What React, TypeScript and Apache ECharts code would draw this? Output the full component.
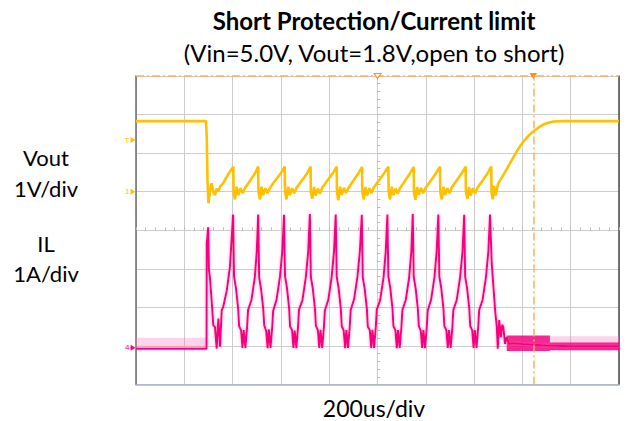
import React, { useEffect, useRef } from "react";
import * as echarts from "echarts";

// Time axis: 200 us/div, 10 divisions
const timeRange = [0, 2000];
const timeInterval = 200;
// Vout channel: 1 V/div, ground at 5th division from bottom
const voutRange = [-5, 3];
// IL channel: 1 A/div, ground at ~0.95 div from bottom
const ilRange = [-0.95, 7.05];

// Vout trace [time us, volts]
const voutPoints: [number, number][] = [
  [0, 1.83], [290, 1.83], [293, 1.4], [296, 0.3], [300, -0.3], [306, 0.0], [313, 0.22], [320, 0.0], [327, -0.09], [334, 0.08], [341, 0.0], [348, 0.13], [361, 0.22], [376, 0.39], [389, 0.52], [403, 0.65],
  [404, 0.0], [410, -0.2], [417, 0.13], [424, -0.09], [433, 0.09], [442, -0.04], [451, 0.09], [465, 0.22], [479, 0.35], [493, 0.48], [506, 0.65],
  [507, 0.0], [513, -0.2], [520, 0.13], [527, -0.09], [536, 0.09], [545, -0.04], [554, 0.09], [568, 0.22], [584, 0.35], [600, 0.48], [616, 0.65],
  [617, 0.0], [623, -0.2], [630, 0.13], [637, -0.09], [646, 0.09], [655, -0.04], [664, 0.09], [678, 0.22], [694, 0.35], [709, 0.48], [723, 0.65],
  [724, -0.02], [730, -0.18], [737, 0.12], [744, -0.1], [753, 0.08], [762, -0.05], [771, 0.1], [786, 0.23], [801, 0.36], [816, 0.49], [831, 0.65],
  [832, 0.0], [838, -0.22], [845, 0.13], [852, -0.08], [861, 0.1], [870, -0.03], [879, 0.09], [893, 0.22], [907, 0.35], [921, 0.48], [936, 0.64],
  [937, 0.0], [943, -0.2], [950, 0.12], [957, -0.1], [966, 0.09], [975, -0.04], [984, 0.1], [999, 0.23], [1014, 0.36], [1029, 0.49], [1045, 0.65],
  [1046, 0.0], [1052, -0.2], [1059, 0.13], [1066, -0.09], [1075, 0.08], [1084, -0.05], [1093, 0.09], [1107, 0.22], [1121, 0.35], [1135, 0.48], [1150, 0.64],
  [1151, -0.02], [1157, -0.21], [1164, 0.12], [1171, -0.08], [1180, 0.1], [1189, -0.04], [1198, 0.09], [1213, 0.22], [1228, 0.35], [1243, 0.49], [1259, 0.65],
  [1260, 0.0], [1266, -0.2], [1273, 0.13], [1280, -0.09], [1289, 0.09], [1298, -0.04], [1307, 0.1], [1321, 0.23], [1336, 0.36], [1350, 0.49], [1365, 0.65],
  [1366, 0.0], [1372, -0.19], [1379, 0.12], [1386, -0.1], [1395, 0.09], [1404, -0.05], [1413, 0.09], [1427, 0.22], [1442, 0.35], [1456, 0.48], [1471, 0.65],
  [1472, 0.0], [1477, -0.2], [1483, 0.15], [1489, -0.1], [1494, 0.04], [1499, 0.2], [1508, 0.3], [1521, 0.43], [1549, 0.74], [1576, 1.04], [1604, 1.3],
  [1625, 1.45], [1645, 1.56], [1666, 1.66], [1686, 1.74], [1707, 1.79], [1728, 1.82], [1769, 1.83], [2000, 1.83],
];

// Inductor current trace [time us, amps]
const ilPoints: [number, number][] = [
  [0, -0.02], [292, -0.02], [293, 2.7], [299, 3.13], [302, 2.01], [306, 1.84], [313, 1.24], [320, 0.59], [327, 0.54], [334, -0.02], [341, 0.76], [348, 0.03], [355, 0.98], [361, 1.06], [376, 1.49], [389, 2.1], [402, 3.46],
  [406, 1.85], [414, 1.55], [423, 1.02], [427, 0.56], [435, 0.46], [441, 0.0], [446, 0.46], [453, 0.0], [460, 0.54], [464, 0.98], [478, 1.24], [492, 1.83], [500, 2.5], [506, 3.46],
  [510, 1.82], [518, 1.52], [527, 1.0], [531, 0.58], [539, 0.44], [545, -0.01], [550, 0.48], [557, 0.0], [564, 0.54], [568, 0.96], [582, 1.25], [596, 1.84], [606, 2.52], [613, 3.45],
  [617, 1.86], [625, 1.56], [634, 1.03], [638, 0.55], [646, 0.47], [652, 0.0], [657, 0.45], [664, -0.01], [671, 0.55], [675, 0.99], [689, 1.23], [703, 1.82], [713, 2.49], [720, 3.47],
  [724, 1.84], [732, 1.54], [741, 1.01], [745, 0.57], [753, 0.46], [759, 0.0], [764, 0.47], [771, 0.0], [778, 0.53], [782, 0.97], [796, 1.24], [810, 1.83], [820, 2.51], [827, 3.46],
  [831, 1.85], [839, 1.55], [848, 1.02], [852, 0.56], [860, 0.45], [866, -0.01], [871, 0.46], [878, 0.0], [885, 0.54], [889, 0.98], [903, 1.26], [917, 1.85], [927, 2.5], [935, 3.45],
  [939, 1.83], [947, 1.53], [956, 1.01], [960, 0.55], [968, 0.46], [974, 0.0], [979, 0.47], [986, 0.0], [993, 0.55], [997, 0.99], [1011, 1.24], [1025, 1.83], [1034, 2.49], [1041, 3.46],
  [1045, 1.85], [1053, 1.55], [1062, 1.02], [1066, 0.56], [1074, 0.46], [1080, -0.01], [1085, 0.46], [1092, 0.0], [1099, 0.54], [1103, 0.98], [1117, 1.24], [1131, 1.83], [1140, 2.5], [1146, 3.47],
  [1150, 1.84], [1158, 1.54], [1167, 1.02], [1171, 0.57], [1179, 0.45], [1185, 0.0], [1190, 0.46], [1197, -0.01], [1204, 0.54], [1208, 0.97], [1222, 1.25], [1236, 1.84], [1245, 2.51], [1252, 3.46],
  [1256, 1.85], [1264, 1.55], [1273, 1.02], [1277, 0.56], [1285, 0.46], [1291, 0.0], [1296, 0.46], [1303, 0.0], [1310, 0.54], [1314, 0.98], [1328, 1.24], [1342, 1.83], [1352, 2.5], [1359, 3.45],
  [1363, 1.84], [1371, 1.55], [1380, 1.02], [1384, 0.56], [1392, 0.46], [1398, 0.0], [1403, 0.46], [1410, 0.0], [1417, 0.54], [1421, 0.98], [1435, 1.24], [1449, 1.83], [1459, 2.5], [1466, 3.46],
  [1473, 2.19], [1480, 1.58], [1487, 0.98], [1494, 0.54], [1498, -0.02], [1504, 0.72], [1511, 0.28], [1516, 0.6], [1521, 0.54], [1528, 0.1], [1535, 0.28], [1545, 0.1],
  [1560, 0.12], [1600, 0.1], [1700, 0.06], [1800, 0.04], [2000, 0.04],
];

// Noise envelopes of the current trace [t0, i0, t1, i1]
const ilNoiseLight: [number, number, number, number][] = [
  [0, -0.02, 292, 0.26],
  [1714, -0.06, 2000, 0.3],
];
const ilNoiseDark: [number, number, number, number][] = [
  [1535, -0.08, 1714, 0.32],
  [1714, -0.06, 2000, 0.14],
];

// Scope markers
const cursorTime = 1645;
const triggerTime = 1000;
const triggerLevel = 1.34;

const YELLOW = "#FFC000";
const PINK = "#F7007F";
const ORANGE = "#FFB060";
const FONT = "Lato, 'Open Sans', sans-serif";

export default function App() {
  const ref = useRef<HTMLDivElement>(null);
  useEffect(() => {
    if (!ref.current) return;
    const chart = echarts.init(ref.current, undefined, { renderer: "svg" });
    const hiddenAxisParts = {
      axisLabel: { show: false },
      axisTick: { show: false },
    };
    chart.setOption({
      animation: false,
      backgroundColor: "#ffffff",
      grid: { left: 136, top: 76, width: 483, height: 308.5 },
      xAxis: [
        {
          type: "value",
          min: timeRange[0],
          max: timeRange[1],
          interval: timeInterval,
          ...hiddenAxisParts,
          axisLine: { show: true, onZero: false, lineStyle: { color: "#a9b4c8", width: 1.5 } },
          splitLine: { show: true, lineStyle: { color: "#cccccc", width: 1 } },
        },
        {
          type: "value",
          min: timeRange[0],
          max: timeRange[1],
          interval: timeInterval,
          position: "bottom",
          offset: -154.25,
          axisLabel: { show: false },
          axisLine: { show: false, onZero: false },
          axisTick: { show: true, inside: true, length: 3, lineStyle: { color: "#bbbbbb" } },
          minorTick: { show: true, splitNumber: 5, length: 3, lineStyle: { color: "#bbbbbb" } },
          splitLine: { show: false },
        },
      ],
      yAxis: [
        {
          type: "value",
          min: voutRange[0],
          max: voutRange[1],
          interval: 1,
          position: "left",
          ...hiddenAxisParts,
          axisLine: { show: true, onZero: false, lineStyle: { color: "#6b6b6b", width: 1.5 } },
          splitLine: { show: true, lineStyle: { color: "#cccccc", width: 1 } },
        },
        {
          type: "value",
          min: ilRange[0],
          max: ilRange[1],
          position: "right",
          ...hiddenAxisParts,
          axisLine: { show: true, onZero: false, lineStyle: { color: "#4a4a55", width: 1.5 } },
          splitLine: { show: false },
        },
        {
          type: "value",
          min: voutRange[0],
          max: voutRange[1],
          interval: 1,
          position: "left",
          offset: -241.5,
          axisLabel: { show: false },
          axisLine: { show: false, onZero: false },
          axisTick: { show: true, inside: true, length: 3, lineStyle: { color: "#bbbbbb" } },
          minorTick: { show: true, splitNumber: 5, length: 3, lineStyle: { color: "#bbbbbb" } },
          splitLine: { show: false },
        },
      ],
      series: [
        {
          name: "cursors",
          type: "line",
          xAxisIndex: 0,
          yAxisIndex: 0,
          data: [],
          silent: true,
          markLine: {
            silent: true,
            symbol: "none",
            label: { show: false },
            lineStyle: { color: ORANGE, type: [8, 3, 2, 3], width: 1.5 },
            data: [{ yAxis: voutRange[1] }, { xAxis: cursorTime }],
          },
          markPoint: {
            silent: true,
            label: { show: false },
            data: [
              { coord: [cursorTime, voutRange[1]], symbol: "triangle", symbolRotate: 180, symbolSize: [8, 6], itemStyle: { color: "#FF9020" } },
              { coord: [triggerTime, voutRange[1]], symbol: "triangle", symbolRotate: 180, symbolSize: [7, 5], itemStyle: { color: "#ffffff", borderColor: "#FF9020", borderWidth: 1 } },
            ],
          },
        },
        {
          name: "IL",
          type: "line",
          xAxisIndex: 0,
          yAxisIndex: 1,
          data: ilPoints,
          showSymbol: false,
          lineStyle: { color: PINK, width: 2, shadowColor: "rgba(255,110,180,0.6)", shadowBlur: 3 },
          markArea: {
            silent: true,
            data: [
              ...ilNoiseLight.map((b) => [
                { xAxis: b[0], yAxis: b[1], itemStyle: { color: "rgba(255,120,190,0.32)" } },
                { xAxis: b[2], yAxis: b[3] },
              ]),
              ...ilNoiseDark.map((b) => [
                { xAxis: b[0], yAxis: b[1], itemStyle: { color: "rgba(245,0,127,0.85)" } },
                { xAxis: b[2], yAxis: b[3] },
              ]),
            ],
          },
          markPoint: {
            silent: true,
            data: [
              {
                coord: [0, 0],
                symbol: "triangle",
                symbolRotate: -90,
                symbolSize: [6, 5],
                symbolOffset: [-3, 0],
                itemStyle: { color: PINK },
                label: { show: true, formatter: "4", position: "left", distance: 1, fontSize: 8, color: PINK },
              },
            ],
          },
        },
        {
          name: "Vout",
          type: "line",
          xAxisIndex: 0,
          yAxisIndex: 0,
          data: voutPoints,
          showSymbol: false,
          lineStyle: { color: YELLOW, width: 2.6 },
          markPoint: {
            silent: true,
            data: [
              {
                coord: [0, 0],
                symbol: "triangle",
                symbolRotate: -90,
                symbolSize: [6, 5],
                symbolOffset: [-3, 0],
                itemStyle: { color: YELLOW },
                label: { show: true, formatter: "1", position: "left", distance: 1, fontSize: 8, color: YELLOW },
              },
              {
                coord: [0, triggerLevel],
                symbol: "triangle",
                symbolRotate: -90,
                symbolSize: [6, 5],
                symbolOffset: [-3, 0],
                itemStyle: { color: YELLOW },
                label: { show: true, formatter: "T", position: "left", distance: 1, fontSize: 8, color: YELLOW },
              },
            ],
          },
        },
      ],
      graphic: [
        { type: "text", x: 374, y: 20, style: { text: "Short Protection/Current limit", font: `bold 24px ${FONT}`, fill: "#000", textAlign: "center", textVerticalAlign: "middle" } },
        { type: "text", x: 374, y: 52, style: { text: "(Vin=5.0V, Vout=1.8V,open to short)", font: `24px ${FONT}`, fill: "#000", textAlign: "center", textVerticalAlign: "middle" } },
        { type: "text", x: 46, y: 157, style: { text: "Vout", font: `22px ${FONT}`, fill: "#000", textAlign: "center", textVerticalAlign: "middle" } },
        { type: "text", x: 46, y: 188, style: { text: "1V/div", font: `22px ${FONT}`, fill: "#000", textAlign: "center", textVerticalAlign: "middle" } },
        { type: "text", x: 46, y: 243, style: { text: "IL", font: `22px ${FONT}`, fill: "#000", textAlign: "center", textVerticalAlign: "middle" } },
        { type: "text", x: 46, y: 273, style: { text: "1A/div", font: `22px ${FONT}`, fill: "#000", textAlign: "center", textVerticalAlign: "middle" } },
        { type: "text", x: 374, y: 408, style: { text: "200us/div", font: `23px ${FONT}`, fill: "#000", textAlign: "center", textVerticalAlign: "middle" } },
      ],
    });
    return () => chart.dispose();
  }, []);
  return <div ref={ref} style={{ position: "fixed", left: 0, top: 0, width: 627, height: 421 }} />;
}
